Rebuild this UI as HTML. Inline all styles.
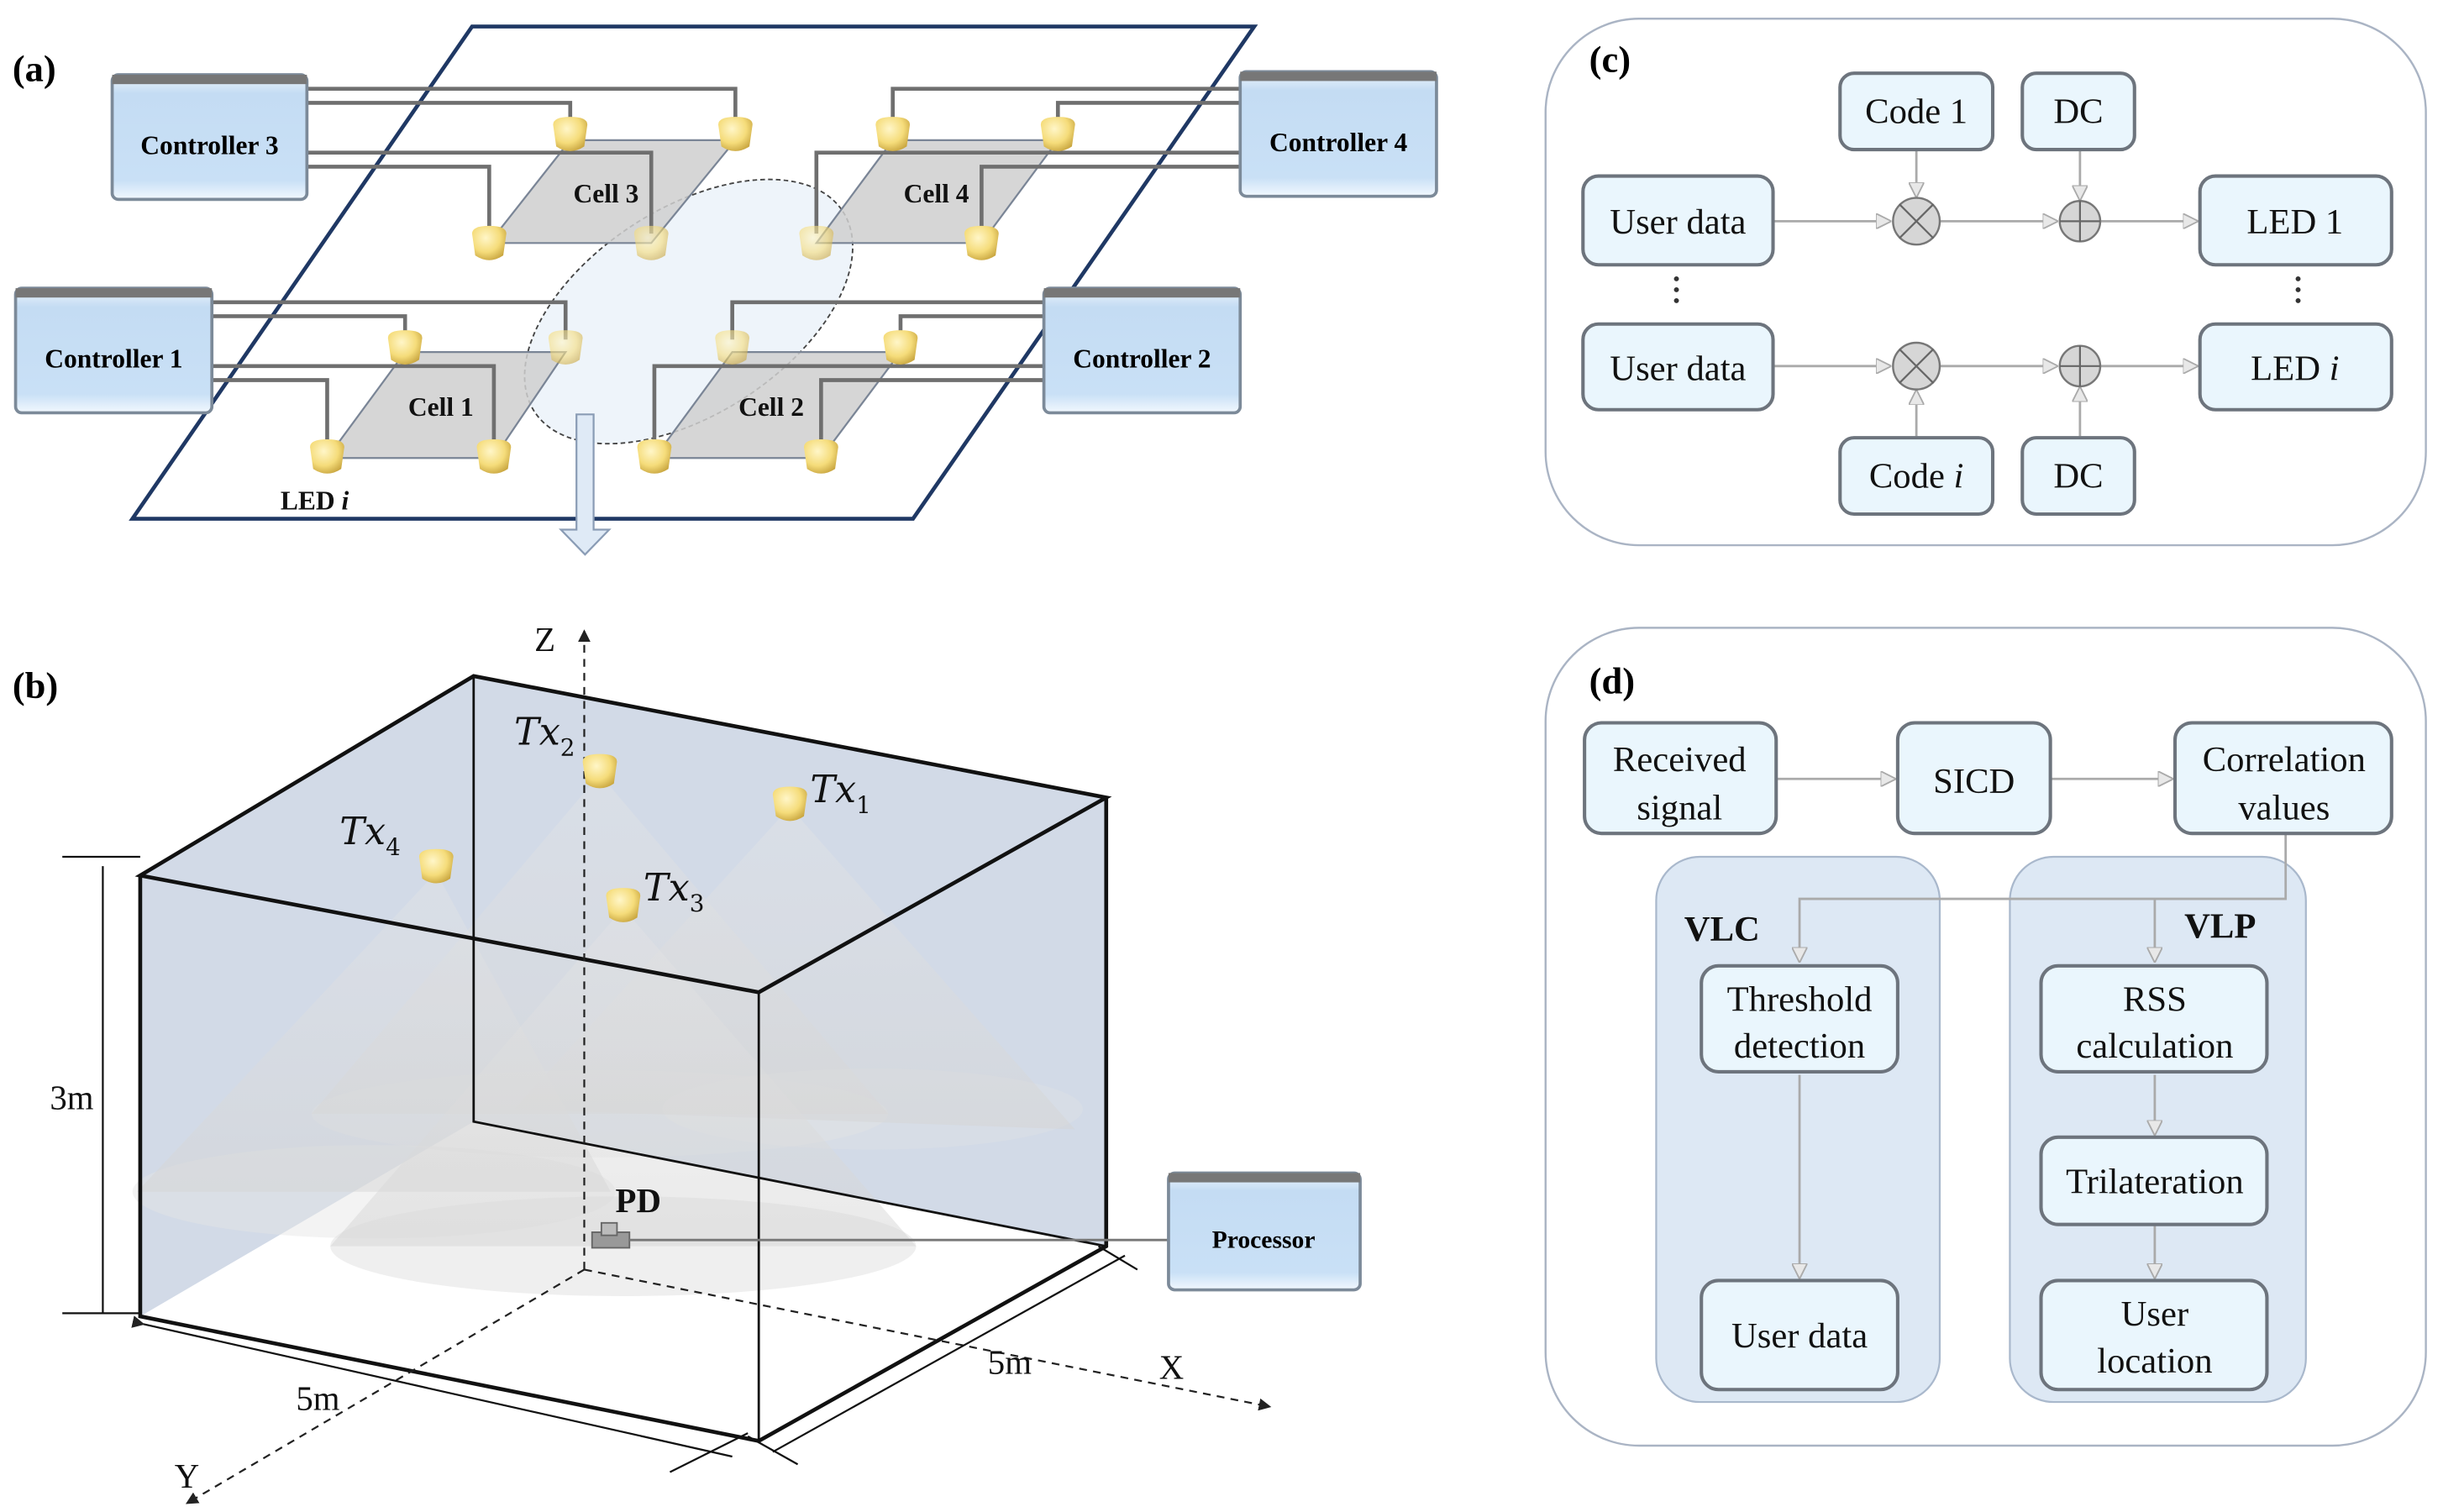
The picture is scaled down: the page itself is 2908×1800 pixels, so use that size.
<!DOCTYPE html>
<html><head><meta charset="utf-8"><style>html,body{margin:0;padding:0;background:#fff}svg{display:block}</style></head>
<body>
<svg width="2908" height="1800" viewBox="0 0 1568 970.6" preserveAspectRatio="none" xmlns="http://www.w3.org/2000/svg" font-family="Liberation Serif, serif">
<defs>
<linearGradient id="ctl" x1="0" y1="0" x2="0" y2="1"><stop offset="0" stop-color="#eef5fd"/><stop offset="0.15" stop-color="#c4dcf3"/><stop offset="0.85" stop-color="#c9e0f6"/><stop offset="1" stop-color="#f2f8fe"/></linearGradient>
<radialGradient id="led" cx="0.4" cy="0.35" r="0.7"><stop offset="0" stop-color="#fff6c8"/><stop offset="0.6" stop-color="#f5dc7a"/><stop offset="1" stop-color="#c9a640"/></radialGradient>
<linearGradient id="cone" x1="0" y1="0" x2="0" y2="1"><stop offset="0" stop-color="#e6e6e6" stop-opacity="0.35"/><stop offset="1" stop-color="#d4d4d4" stop-opacity="0.5"/></linearGradient>
<marker id="ah" markerWidth="10" markerHeight="10" refX="9" refY="5" orient="auto" markerUnits="userSpaceOnUse"><path d="M0,0 L10,5 L0,10 Z" fill="#e8e8e8" stroke="#aaa" stroke-width="1"/></marker>
<marker id="ak" markerWidth="8" markerHeight="8" refX="7" refY="4" orient="auto" markerUnits="userSpaceOnUse"><path d="M0,0 L8,4 L0,8 Z" fill="#222"/></marker>
<g id="L"><path d="M-11,-8 Q-11,-13 0,-13 Q11,-13 11,-8 L9,6 Q0,12 -9,6 Z" fill="url(#led)"/></g>
</defs>

<!-- ========== (a) ========== -->
<text x="8" y="52" font-size="24" font-weight="bold">(a)</text>
<polygon points="303,17 805,17 586,333 85,333" fill="#fff" stroke="#1f3864" stroke-width="2.5"/>
<ellipse cx="442" cy="200" rx="118" ry="66" transform="rotate(-33 442 200)" fill="#eef4fa" stroke="#444" stroke-width="1" stroke-dasharray="3,2"/>
<g fill="#cfcfcf" fill-opacity="0.85" stroke="#7a8596" stroke-width="1.2">
<polygon points="366,90 472,90 418,156 314,156"/>
<polygon points="573,90 679,90 630,156 524,156"/>
<polygon points="260,226 363,226 317,294 210,294"/>
<polygon points="470,226 578,226 527,294 420,294"/>
</g>
<g fill="none" stroke="#6f6f6f" stroke-width="2.5">
<path d="M197,57 H472 V80"/><path d="M197,66 H366 V80"/><path d="M197,98 H418 V150"/><path d="M197,107 H314 V150"/>
<path d="M796,57 H573 V80"/><path d="M796,66 H679 V80"/><path d="M796,98 H524 V150"/><path d="M796,107 H630 V150"/>
<path d="M136,194 H363 V218"/><path d="M136,203 H260 V218"/><path d="M136,235 H317 V288"/><path d="M136,244 H210 V288"/>
<path d="M670,194 H470 V218"/><path d="M670,203 H578 V218"/><path d="M670,235 H420 V288"/><path d="M670,244 H527 V288"/>
</g>
<g>
<use href="#L" x="366" y="88"/><use href="#L" x="472" y="88"/><use href="#L" x="314" y="158"/><use href="#L" x="418" y="158" opacity="0.6"/>
<use href="#L" x="573" y="88"/><use href="#L" x="679" y="88"/><use href="#L" x="524" y="158" opacity="0.6"/><use href="#L" x="630" y="158"/>
<use href="#L" x="260" y="225"/><use href="#L" x="363" y="225" opacity="0.6"/><use href="#L" x="210" y="295"/><use href="#L" x="317" y="295"/>
<use href="#L" x="470" y="225" opacity="0.6"/><use href="#L" x="578" y="225"/><use href="#L" x="420" y="295"/><use href="#L" x="527" y="295"/>
</g>
<g font-size="17" font-weight="bold" fill="#111">
<text x="368" y="130">Cell 3</text><text x="580" y="130">Cell 4</text>
<text x="262" y="267">Cell 1</text><text x="474" y="267">Cell 2</text>
<text x="180" y="327">LED <tspan font-style="italic">i</tspan></text>
</g>
<g font-size="17" font-weight="bold" text-anchor="middle">
<g><rect x="72" y="48" width="125" height="80" rx="4" fill="url(#ctl)" stroke="#7c8a99" stroke-width="2"/><rect x="72" y="48" width="125" height="6" fill="#777"/><text x="134.5" y="99">Controller 3</text></g>
<g><rect x="796" y="46" width="126" height="80" rx="4" fill="url(#ctl)" stroke="#7c8a99" stroke-width="2"/><rect x="796" y="46" width="126" height="6" fill="#777"/><text x="859" y="97">Controller 4</text></g>
<g><rect x="10" y="185" width="126" height="80" rx="4" fill="url(#ctl)" stroke="#7c8a99" stroke-width="2"/><rect x="10" y="185" width="126" height="6" fill="#777"/><text x="73" y="236">Controller 1</text></g>
<g><rect x="670" y="185" width="126" height="80" rx="4" fill="url(#ctl)" stroke="#7c8a99" stroke-width="2"/><rect x="670" y="185" width="126" height="6" fill="#777"/><text x="733" y="236">Controller 2</text></g>
</g>
<path d="M370,266 H381 V340 H391 L375.5,356 L360,340 H370 Z" fill="#dfeaf6" stroke="#8a9cb5" stroke-width="1.2"/>

<!-- ========== (b) ========== -->
<text x="8" y="448" font-size="24" font-weight="bold">(b)</text>
<polygon points="90,562 304,434 710,512 710,800 487,925 90,845" fill="#d2dae7"/>
<polygon points="90,845 304,720 710,800 487,925" fill="#fff"/>
<g>
<ellipse cx="385" cy="715" rx="185" ry="28" fill="#e4e4e4" fill-opacity="0.35"/>
<polygon points="385,497 200,715 570,715" fill="url(#cone)"/>
<ellipse cx="560" cy="712" rx="135" ry="26" fill="#e4e4e4" fill-opacity="0.3"/>
<polygon points="507,518 330,712 690,725" fill="url(#cone)"/>
<ellipse cx="240" cy="765" rx="155" ry="30" fill="#e4e4e4" fill-opacity="0.45"/>
<polygon points="280,560 88,765 392,765" fill="url(#cone)"/>
<ellipse cx="400" cy="800" rx="188" ry="32" fill="#e0e0e0" fill-opacity="0.5"/>
<polygon points="400,583 212,800 588,800" fill="url(#cone)"/>
</g>
<g stroke="#111" fill="none">
<path d="M90,562 L304,434 L710,512 L487,637 Z" stroke-width="2.5"/>
<path d="M90,562 V845 L487,925 L710,800 V512" stroke-width="2.5"/>
<path d="M487,637 V925" stroke-width="1.5"/>
<path d="M304,434 V720 L710,800" stroke-width="1.5"/>
</g>
<g stroke="#222" stroke-width="1.2" stroke-dasharray="5,4" fill="none">
<path d="M375,815 V405" marker-end="url(#ak)"/>
<path d="M375,815 L815,903" marker-end="url(#ak)"/>
<path d="M375,815 L120,965" marker-end="url(#ak)"/>
</g>
<g stroke="#111" stroke-width="1.2" fill="none">
<path d="M66,556 V843"/><path d="M40,550 H90"/><path d="M40,843 H90"/>
<path d="M92,850 L470,935" marker-start="url(#ak)"/><path d="M430,945 L480,920"/>
<path d="M496,932 L722,806"/><path d="M705,800 L730,815"/><path d="M480,922 L512,940"/>
</g>
<g font-size="22" fill="#111">
<text x="32" y="712">3m</text>
<text x="190" y="905">5m</text>
<text x="634" y="882">5m</text>
<text x="744" y="885">X</text>
<text x="112" y="955">Y</text>
<text x="343" y="418">Z</text>
<text x="395" y="778" font-weight="bold">PD</text>
</g>
<g font-size="24" font-style="italic" font-family="DejaVu Serif, serif" fill="#111">
<text x="330" y="478">Tx<tspan font-size="15" dy="7" font-style="normal">2</tspan></text>
<text x="520" y="515">Tx<tspan font-size="15" dy="7" font-style="normal">1</tspan></text>
<text x="218" y="542">Tx<tspan font-size="15" dy="7" font-style="normal">4</tspan></text>
<text x="413" y="578">Tx<tspan font-size="15" dy="7" font-style="normal">3</tspan></text>
</g>
<use href="#L" x="385" y="497"/><use href="#L" x="507" y="518"/><use href="#L" x="280" y="558"/><use href="#L" x="400" y="583"/>
<rect x="380" y="791" width="24" height="10" fill="#999" stroke="#666"/><rect x="386" y="785" width="10" height="8" fill="#bbb" stroke="#666"/>
<path d="M404,796 H750" stroke="#777" stroke-width="1.5"/>
<g><rect x="750" y="753" width="123" height="75" rx="4" fill="url(#ctl)" stroke="#7c8a99" stroke-width="2"/><rect x="750" y="753" width="123" height="6" fill="#777"/><text x="811" y="801" font-size="16" font-weight="bold" text-anchor="middle">Processor</text></g>

<!-- ========== (c) ========== -->
<rect x="992" y="12" width="565" height="338" rx="60" fill="#fff" stroke="#aab4c4" stroke-width="1.3"/>
<text x="1020" y="46" font-size="24" font-weight="bold">(c)</text>
<g stroke="#aaa" stroke-width="1.5" fill="none">
<path d="M1138,142 H1213" marker-end="url(#ah)"/><path d="M1245,142 H1320" marker-end="url(#ah)"/><path d="M1348,142 H1410" marker-end="url(#ah)"/>
<path d="M1138,235 H1213" marker-end="url(#ah)"/><path d="M1245,235 H1320" marker-end="url(#ah)"/><path d="M1348,235 H1410" marker-end="url(#ah)"/>
<path d="M1230,97 V126" marker-end="url(#ah)"/><path d="M1335,97 V128" marker-end="url(#ah)"/>
<path d="M1230,280 V251" marker-end="url(#ah)"/><path d="M1335,280 V249" marker-end="url(#ah)"/>
</g>
<g fill="#d6d6d6" stroke="#777" stroke-width="1.3">
<circle cx="1230" cy="142" r="15"/><circle cx="1335" cy="142" r="13"/><circle cx="1230" cy="235" r="15"/><circle cx="1335" cy="235" r="13"/>
</g>
<g stroke="#666" stroke-width="1.2">
<path d="M1219,131 L1241,153 M1241,131 L1219,153"/><path d="M1219,224 L1241,246 M1241,224 L1219,246"/>
<path d="M1322,142 H1348 M1335,129 V155"/><path d="M1322,235 H1348 M1335,222 V248"/>
</g>
<g fill="#eaf6fd" stroke="#6d747d" stroke-width="2.2">
<rect x="1181" y="47" width="98" height="49" rx="9"/><rect x="1298" y="47" width="72" height="49" rx="9"/>
<rect x="1016" y="113" width="122" height="57" rx="10"/><rect x="1412" y="113" width="123" height="57" rx="10"/>
<rect x="1016" y="208" width="122" height="55" rx="10"/><rect x="1412" y="208" width="123" height="55" rx="10"/>
<rect x="1181" y="281" width="98" height="49" rx="9"/><rect x="1298" y="281" width="72" height="49" rx="9"/>
</g>
<g font-size="23" text-anchor="middle" fill="#111">
<text x="1230" y="79">Code 1</text><text x="1334" y="79">DC</text>
<text x="1077" y="150">User data</text><text x="1473" y="150">LED 1</text>
<text x="1077" y="244">User data</text><text x="1473" y="244">LED <tspan font-style="italic">i</tspan></text>
<text x="1230" y="313">Code <tspan font-style="italic">i</tspan></text><text x="1334" y="313">DC</text>
</g>
<g fill="#333"><circle cx="1076" cy="179" r="1.6"/><circle cx="1076" cy="186" r="1.6"/><circle cx="1076" cy="193" r="1.6"/>
<circle cx="1475" cy="179" r="1.6"/><circle cx="1475" cy="186" r="1.6"/><circle cx="1475" cy="193" r="1.6"/></g>

<!-- ========== (d) ========== -->
<rect x="992" y="403" width="565" height="525" rx="60" fill="#fff" stroke="#aab4c4" stroke-width="1.3"/>
<text x="1020" y="445" font-size="24" font-weight="bold">(d)</text>
<rect x="1063" y="550" width="182" height="350" rx="28" fill="#dde8f4" stroke="#a9b8cc" stroke-width="1.2"/>
<rect x="1290" y="550" width="190" height="350" rx="28" fill="#dde8f4" stroke="#a9b8cc" stroke-width="1.2"/>
<g font-size="23" font-weight="bold" fill="#111"><text x="1081" y="604">VLC</text><text x="1402" y="602">VLP</text></g>
<g stroke="#aaa" stroke-width="1.5" fill="none">
<path d="M1140,500 H1216" marker-end="url(#ah)"/><path d="M1316,500 H1394" marker-end="url(#ah)"/>
<path d="M1467,536 V577 H1155 V617" marker-end="url(#ah)"/><path d="M1383,577 V617" marker-end="url(#ah)"/>
<path d="M1155,690 V820" marker-end="url(#ah)"/><path d="M1383,690 V728" marker-end="url(#ah)"/><path d="M1383,786 V820" marker-end="url(#ah)"/>
</g>
<g fill="#eaf6fd" stroke="#6d747d" stroke-width="2.2">
<rect x="1017" y="464" width="123" height="71" rx="11"/><rect x="1218" y="464" width="98" height="71" rx="11"/><rect x="1396" y="464" width="139" height="71" rx="11"/>
<rect x="1092" y="620" width="126" height="68" rx="11"/><rect x="1092" y="822" width="126" height="70" rx="11"/>
<rect x="1310" y="620" width="145" height="68" rx="11"/><rect x="1310" y="730" width="145" height="56" rx="11"/><rect x="1310" y="822" width="145" height="70" rx="11"/>
</g>
<g font-size="23" text-anchor="middle" fill="#111">
<text x="1078" y="495">Received</text><text x="1078" y="526">signal</text>
<text x="1267" y="509">SICD</text>
<text x="1466" y="495">Correlation</text><text x="1466" y="526">values</text>
<text x="1155" y="649">Threshold</text><text x="1155" y="679">detection</text>
<text x="1155" y="865">User data</text>
<text x="1383" y="649">RSS</text><text x="1383" y="679">calculation</text>
<text x="1383" y="766">Trilateration</text>
<text x="1383" y="851">User</text><text x="1383" y="881">location</text>
</g>
</svg>
</body></html>
